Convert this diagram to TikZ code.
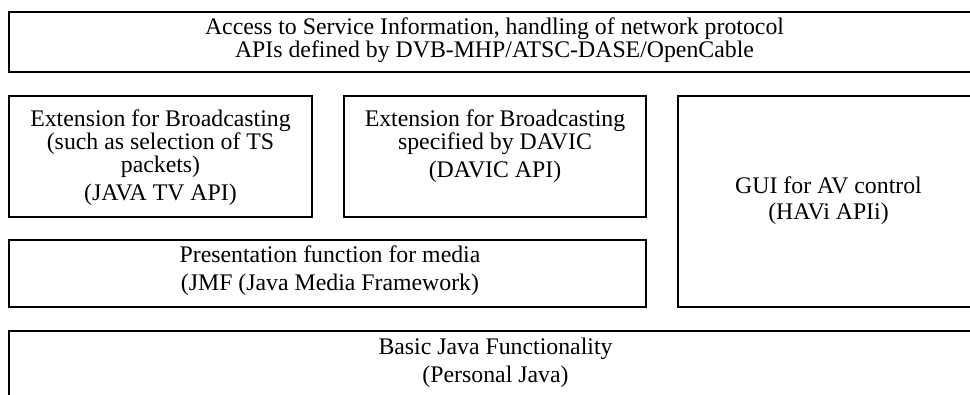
\documentclass[tikz,border=0pt]{standalone}
\usepackage{fontspec}
\setmainfont{Liberation Serif}

\begin{document}
\begin{tikzpicture}[
  x=1pt, y=-1pt,
  layer/.style={rectangle, draw=black, line width=2pt, inner sep=0pt},
  txt/.style={anchor=north, align=center, inner sep=0pt,
              font=\fontsize{23.8}{21.5}\selectfont}
]
  \useasboundingbox (0,0) rectangle (970,394);

  \node[layer, minimum width=970pt, minimum height=60pt]    (access) at (494,42)      {};
  \node[layer, minimum width=303pt, minimum height=121.5pt] (tvapi)  at (160.5,156.25) {};
  \node[layer, minimum width=302pt, minimum height=121.5pt] (davic)  at (495,156.25)  {};
  \node[layer, minimum width=301pt, minimum height=211.5pt] (havi)   at (828.5,201.25) {};
  \node[layer, minimum width=637pt, minimum height=67pt]    (jmf)    at (327.5,273.5) {};
  \node[layer, minimum width=970pt, minimum height=89pt]    (pjava)  at (494,375.5)   {};

  \node[txt] (access-t) at (494.5,18) {Access to Service Information, handling of network protocol\\
    APIs defined by DVB-MHP/ATSC-DASE/OpenCable};
  \node[txt] (tvapi-t)  at (160.5,110) {Extension for Broadcasting\\(such as selection of TS\\packets)\\[5pt]
    (JAVA TV API)};
  \node[txt] (davic-t)  at (495,110)   {Extension for Broadcasting\\specified by DAVIC\\[5pt](DAVIC API)};
  \node[txt] (havi-t)   at (828.5,177) {GUI for AV control\\[4pt](HAVi APIi)};
  \node[txt] (jmf-t)    at (330,246)   {Presentation function for media\\[6pt](JMF (Java Media Framework)};
  \node[txt] (pjava-t)  at (495.5,338) {Basic Java Functionality\\[5pt](Personal Java)};
\end{tikzpicture}
\end{document}
